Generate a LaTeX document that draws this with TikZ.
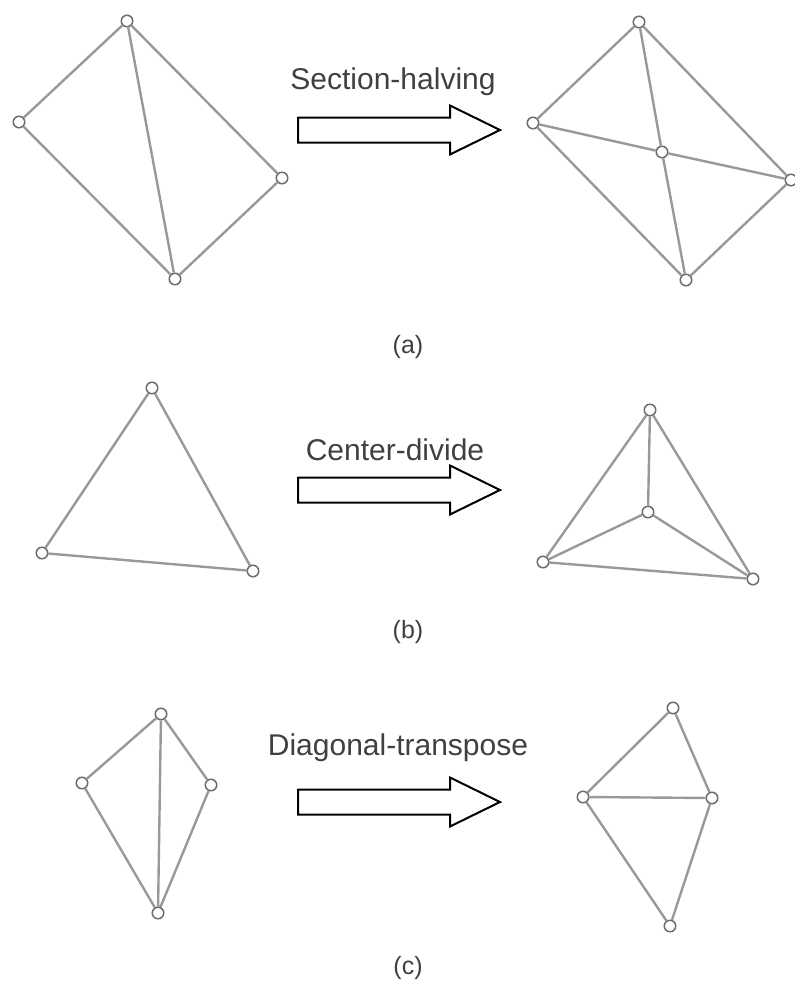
\documentclass[tikz,border=0pt]{standalone}
\usepackage{fontspec}
\setmainfont{Liberation Sans}
\usetikzlibrary{positioning}

\tikzset{
  vtx/.style={circle, draw=gray!85!black, fill=white, line width=1.5pt, minimum size=11.5pt, inner sep=0pt},
  mesh/.style={draw=gray!80, line width=2.4pt},
  bigarrow/.style={draw=black, line width=2pt, fill=white, line join=miter},
  oplabel/.style={font=\fontsize{30}{34}\selectfont, text=black!75},
  sublabel/.style={font=\fontsize{25}{30}\selectfont, text=black!75}
}

\begin{document}
\begin{tikzpicture}[x=1pt, y=-1pt]
    \useasboundingbox (0,0) rectangle (795,988);

    % (a) section-halving
    \node[vtx] (a1) at (127,21) {};
    \node[vtx] (a2) at (19,122) {};
    \node[vtx] (a3) at (282,178) {};
    \node[vtx] (a4) at (175,279) {};
    \draw[mesh] (a1) -- (a2) -- (a4) -- (a3) -- (a1) -- (a4);

    \coordinate (arA) at (298,130);
    \draw[bigarrow] (arA) ++(0,-12.5) -- ++(152,0) -- ++(0,-12) -- ++(50,24.5)
        -- ++(-50,24.5) -- ++(0,-12) -- ++(-152,0) -- cycle;
    \node[oplabel] (labA) at (393,82) {Section-halving};

    \node[vtx] (b1) at (639,22) {};
    \node[vtx] (b2) at (533,123) {};
    \node[vtx] (b3) at (791,180) {};
    \node[vtx] (b4) at (686,280) {};
    \node[vtx] (bc) at (662,152) {};
    \draw[mesh] (b1) -- (b2) -- (b4) -- (b3) -- (b1);
    \draw[mesh] (b1) -- (bc) -- (b4);
    \draw[mesh] (b2) -- (bc) -- (b3);

    \node[sublabel] (capA) at (408,347) {(a)};

    % (b) center-divide
    \node[vtx] (c1) at (152,388) {};
    \node[vtx] (c2) at (42,553) {};
    \node[vtx] (c3) at (253,571) {};
    \draw[mesh] (c1) -- (c2) -- (c3) -- (c1);

    \coordinate (arB) at (298,490);
    \draw[bigarrow] (arB) ++(0,-12.5) -- ++(152,0) -- ++(0,-12) -- ++(50,24.5)
        -- ++(-50,24.5) -- ++(0,-12) -- ++(-152,0) -- cycle;
    \node[oplabel] (labB) at (395,450) {Center-divide};

    \node[vtx] (d1) at (650,410) {};
    \node[vtx] (d2) at (543,562) {};
    \node[vtx] (d3) at (753,579) {};
    \node[vtx] (dc) at (648,512) {};
    \draw[mesh] (d1) -- (d2) -- (d3) -- (d1);
    \draw[mesh] (d1) -- (dc);
    \draw[mesh] (d2) -- (dc) -- (d3);

    \node[sublabel] (capB) at (408,632) {(b)};

    % (c) diagonal-transpose
    \node[vtx] (e1) at (161,714) {};
    \node[vtx] (e2) at (82,783) {};
    \node[vtx] (e3) at (211,785) {};
    \node[vtx] (e4) at (158,913) {};
    \draw[mesh] (e1) -- (e2) -- (e4) -- (e3) -- (e1) -- (e4);

    \coordinate (arC) at (298,802);
    \draw[bigarrow] (arC) ++(0,-12.5) -- ++(152,0) -- ++(0,-12) -- ++(50,24.5)
        -- ++(-50,24.5) -- ++(0,-12) -- ++(-152,0) -- cycle;
    \node[oplabel] (labC) at (398,748) {Diagonal-transpose};

    \node[vtx] (f1) at (673,708) {};
    \node[vtx] (f2) at (583,797) {};
    \node[vtx] (f3) at (712,798) {};
    \node[vtx] (f4) at (670,926) {};
    \draw[mesh] (f1) -- (f2) -- (f4) -- (f3) -- (f1);
    \draw[mesh] (f2) -- (f3);

    \node[sublabel] (capC) at (408,968) {(c)};
\end{tikzpicture}
\end{document}
